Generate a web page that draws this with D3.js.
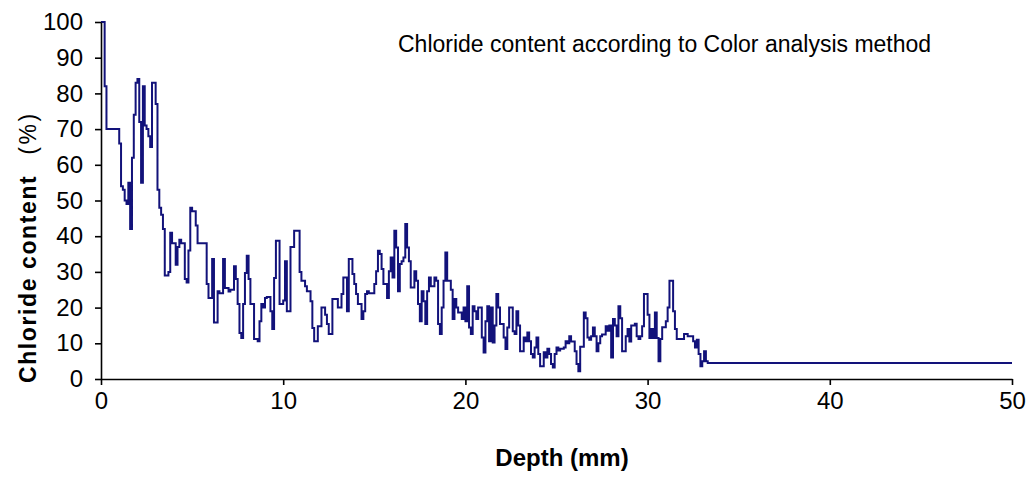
<!DOCTYPE html>
<html>
<head>
<meta charset="utf-8">
<script src="https://cdn.jsdelivr.net/npm/d3@7"></script>
<style>
  html, body { margin: 0; padding: 0; background: #fff; }
  svg { display: block; }
  text { font-family: "Liberation Sans", Arial, sans-serif; fill: #000; }
</style>
</head>
<body>
<svg id="chart" width="1031" height="496"></svg>
<script>
// ---- data ----
const depthStep = 0.1;            // mm between successive readings
const tailDepth = 50;             // last depth of the flat tail (mm)
const chloride = [
  100,100,82,70,70,70,70,70,70,70,
  66,54,53,50,49,55,42,62,74,83,
  84,72,55,82,71,70,68,65,83,83,
  77,53,48,46,42,29,29,30,41,38,
  38,32,37,39,38,38,28,27,36,48,
  47,47,43,38,38,38,38,38,26.6,22.7,
  22.7,33.6,15.8,15.8,24.6,24,24,33.6,25.5,25.5,
  24.5,25,25,31.6,28,21,12.9,11.5,21,29.7,
  34.5,28,21,21,11.2,11.2,10.6,16.2,21,20,
  22.7,23,23,19,14,28.3,38.7,38.7,21,21,
  22,33,19,19,37,37,41.5,41.5,41.5,30,
  27.5,27.5,26,24.6,24.6,21.8,14.3,10.6,10.6,14.8,
  14.8,20,20,18,15.4,12.6,12.6,22.4,22.4,22.4,
  20,20,23.8,28.4,28.4,19,33.6,33.6,29.4,26.6,
  23.8,21,21,16.8,19,23.8,24.6,24,24,24,
  26.6,30.2,35.9,35,30.8,26.6,26.6,22.7,30.2,34,
  28.4,41.5,36.8,24.6,32.2,33,34,43.4,36.8,33,
  25.6,25.6,30.2,27.5,21,16.2,24.6,21.8,15.4,24.6,
  28.4,26,26,28.4,27.5,15.4,12.6,20,27.5,35.4,
  27.5,27.5,25,16.8,22.4,20,18.6,18.6,16.8,20,
  16.2,26,14.4,12.6,20.4,19,16.8,20,20,11.6,
  7.4,16.2,20.4,10.6,20,10.2,15,23.8,20,15.4,
  15.4,11.6,8.4,14.4,20,20,13.4,12.6,19,15,
  7.8,7.8,11.6,10.6,13,10.6,7,6,8.8,11.6,
  7,3.6,3.6,7.5,6,8.5,7,4.2,3.2,7,
  8.8,8,8.5,8.5,8.8,10.6,10,12,10.5,10.5,
  7.8,4.2,2.2,9,9,18.6,17,11.6,11,12,
  14.4,12,7.8,10,12,12.5,12.5,14.8,13.5,15,
  6,16.8,15,12,20.4,17,7.8,7.8,12,14,
  10.5,15,15,15.5,12,11.2,12,14.8,23.8,23.8,
  18,11.5,14,11.5,18.6,11.5,5,11.2,14.5,14.5,
  16.2,20,27.5,27.5,19,14,11.2,11.2,11.2,11.2,
  12.6,12.6,12,12,12,10.6,8.8,11,7,3.6,
  5,7.8,5,4.5
];
const xTicks = [0, 10, 20, 30, 40, 50];
const yTicks = [0, 10, 20, 30, 40, 50, 60, 70, 80, 90, 100];
const titleText = "Chloride content according to Color analysis method";
const xLabel = "Depth (mm)";
const yLabelMain = "Chloride content";
const yLabelUnit = "(%)";

// ---- build ----
const points = chloride.map((v, i) => ({ d: i * depthStep, v }));
points.push({ d: tailDepth, v: chloride[chloride.length - 1] });

const svg = d3.select("#chart");
const x = d3.scaleLinear().domain([0, 50]).range([101, 1012]);
const y = d3.scaleLinear().domain([0, 100]).range([379, 22]);

const line = d3.line()
  .x(p => x(p.d))
  .y(p => y(p.v))
  .curve(d3.curveStepAfter);

svg.append("path")
  .datum(points)
  .attr("fill", "none")
  .attr("stroke", "#12127a")
  .attr("stroke-width", 2)
  .attr("d", line);

const yAxis = svg.append("g")
  .attr("transform", `translate(${x(0)},0)`)
  .call(d3.axisLeft(y).tickValues(yTicks).tickSize(6).tickSizeOuter(0).tickPadding(12));
const xAxis = svg.append("g")
  .attr("transform", `translate(0,${y(0)})`)
  .call(d3.axisBottom(x).tickValues(xTicks).tickSize(6).tickSizeOuter(0).tickPadding(7));

[yAxis, xAxis].forEach(g => {
  g.select(".domain").attr("stroke", "#000").attr("stroke-width", 1.6);
  g.selectAll(".tick line").attr("stroke", "#000").attr("stroke-width", 1.6);
  g.selectAll(".tick text")
    .attr("font-family", '"Liberation Sans", Arial, sans-serif')
    .attr("font-size", 24)
    .attr("fill", "#000");
});

svg.append("text")
  .attr("x", 398).attr("y", 52)
  .attr("font-size", 23)
  .text(titleText);

svg.append("text")
  .attr("x", 562).attr("y", 466)
  .attr("text-anchor", "middle")
  .attr("font-size", 24)
  .attr("font-weight", "bold")
  .text(xLabel);

const yl = svg.append("text")
  .attr("transform", "translate(36,383) rotate(-90)")
  .attr("font-size", 23);
yl.append("tspan").attr("font-weight", "bold").attr("letter-spacing", 1.6).text(yLabelMain);
yl.append("tspan").attr("font-weight", "normal").attr("dx", 20).attr("letter-spacing", 2.5).text(yLabelUnit);
</script>
</body>
</html>
